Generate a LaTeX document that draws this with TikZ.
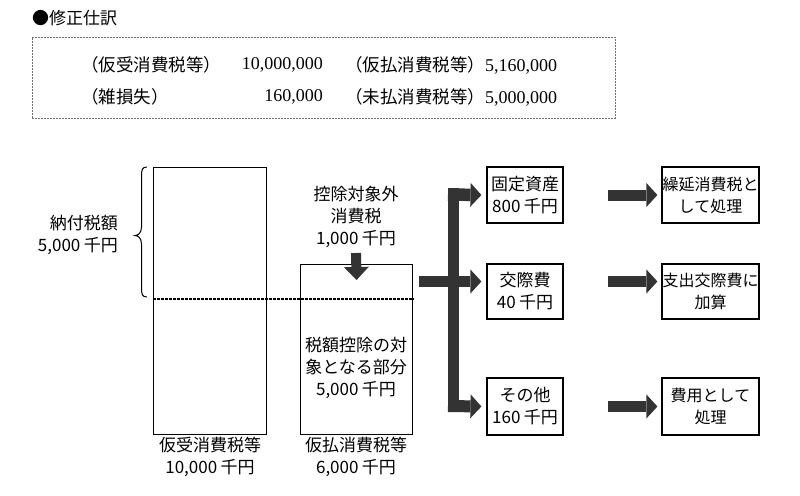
\documentclass[tikz,border=0pt]{standalone}
\usepackage{fontspec}
\setmainfont{Noto Sans CJK JP}
\newfontfamily\serifnum{Liberation Serif}
\usetikzlibrary{arrows.meta,calc}
\definecolor{dk}{HTML}{333333}
\definecolor{dashgray}{HTML}{707070}
\begin{document}
\begin{tikzpicture}[x=1pt,y=-1pt,
  box/.style={draw=black,line width=1.2pt,inner sep=0pt,align=center,font=\fontsize{17}{22}\selectfont},
  lbl/.style={inner sep=0pt,align=center,font=\fontsize{17}{22}\selectfont},
  jtext/.style={inner sep=0pt,font=\fontsize{17.5}{20}\selectfont},
  fatarrow/.style={draw=dk,line width=11pt,-{Triangle[length=11pt,width=24pt,line width=0pt]}},
  dotline/.style={draw=black,dash pattern=on 2.5pt off 1.5pt,line width=1.2pt}]
\useasboundingbox[fill=white] (0,0) rectangle (800,495);

% title and journal entry box
\node[anchor=west,inner sep=0pt,font=\fontsize{17}{20}\selectfont] (title) at (32,18) {●修正仕訳};
\node[draw=dashgray,dash pattern=on 2pt off 1pt,line width=0.8pt,minimum width=583pt,minimum height=81pt,anchor=north west,inner sep=0pt] (jbox) at (32,37) {};
\node[jtext,anchor=west] (r1a) at (81,65) {（仮受消費税等）};
\node[jtext,anchor=east] (r1b) at (323,65) {\fontsize{18}{20}\serifnum 10,000,000};
\node[jtext,anchor=west] (r1c) at (345,65) {（仮払消費税等）\fontsize{18}{20}\serifnum 5,160,000};
\node[jtext,anchor=west] (r2a) at (81,97) {（雑損失）};
\node[jtext,anchor=east] (r2b) at (323,97) {\fontsize{18}{20}\serifnum 160,000};
\node[jtext,anchor=west] (r2c) at (345,97) {（未払消費税等）\fontsize{18}{20}\serifnum 5,000,000};

% columns
\node[box,minimum width=113pt,minimum height=267pt,anchor=north west] (L) at (153,167) {};
\node[box,minimum width=112pt,minimum height=170pt,anchor=north west] (R) at (300,264) {};
\node[lbl] (Rt) at (356,368) {税額控除の対\\象となる部分\\5,000\hspace{0.2em}千円};
\node[lbl] (ex) at (356,217) {控除対象外\\消費税\\1,000\hspace{0.2em}千円};
\node[lbl] (Lb) at (210,456.5) {仮受消費税等\\10,000\hspace{0.2em}千円};
\node[lbl] (Rb) at (356,456.5) {仮払消費税等\\6,000\hspace{0.2em}千円};
\node[lbl,align=right,anchor=east] (nz) at (118,234.5) {納付税額\\5,000\hspace{0.2em}千円};

% dotted line
\coordinate (dl) at (0,299);
\draw[dotline] (L.west |- dl) -- (R.east |- dl);

% brace
\draw[line width=1pt] (147,167) .. controls (142,167) and (141.5,170) .. (141.5,176) -- (141.5,227) .. controls (141.5,233) and (138,235.5) .. (135,235.5) .. controls (138,235.5) and (141.5,238) .. (141.5,244) -- (141.5,288) .. controls (141.5,294) and (142,297) .. (147,297);

% down arrow
\coordinate (dtop) at (356,253);
\draw[draw=dk,line width=10pt,-{Triangle[length=13pt,width=25pt,line width=0pt]}] (dtop) -- ($(R.north)+(0,16)$);

% right boxes
\node[box,minimum width=76pt,minimum height=56pt] (A) at (525,195) {固定資産\\800\hspace{0.2em}千円};
\node[box,minimum width=76pt,minimum height=55pt] (B) at (525,291.5) {交際費\\40\hspace{0.2em}千円};
\node[box,minimum width=76pt,minimum height=57pt] (C) at (525,406.5) {その他\\160\hspace{0.2em}千円};
\node[box,minimum width=97pt,minimum height=56pt,font=\fontsize{16}{22}\selectfont] (D) at (710.5,195) {繰延消費税と\\して処理};
\node[box,minimum width=97pt,minimum height=55pt,font=\fontsize{16}{22}\selectfont] (E) at (710.5,291.5) {支出交際費に\\加算};
\node[box,minimum width=97pt,minimum height=57pt,font=\fontsize{16}{22}\selectfont] (F) at (710.5,406.5) {費用として\\処理};

% arrows between columns
\draw[fatarrow] ([xshift=44pt]A.east) -- ([xshift=-4pt]D.west);
\draw[fatarrow] ([xshift=44pt,yshift=10pt]B.east) -- ([xshift=-4pt,yshift=10pt]E.west);
\draw[fatarrow] ([xshift=44pt]C.east) -- ([xshift=-4pt]F.west);

% branching arrow
\coordinate (jt) at (453.5,188);
\coordinate (jb) at (453.5,412);
\coordinate (bt) at (448,194.5);
\coordinate (bm) at (448,281.5);
\coordinate (bb) at (448,406);
\draw[draw=dk,line width=11pt] (jt) -- (jb);
\draw[draw=dk,line width=11pt] ($(R.east |- bm)+(6,0)$) -- ($(jb |- bm)+(5.5,0)$);
\draw[fatarrow,line width=12.5pt] (bt) -- ([xshift=-5pt]A.west);
\draw[fatarrow,line width=11pt] (bm) -- ([xshift=-5pt,yshift=10pt]B.west);
\draw[fatarrow,line width=12pt] (bb) -- ([xshift=-5pt]C.west);
\end{tikzpicture}
\end{document}
